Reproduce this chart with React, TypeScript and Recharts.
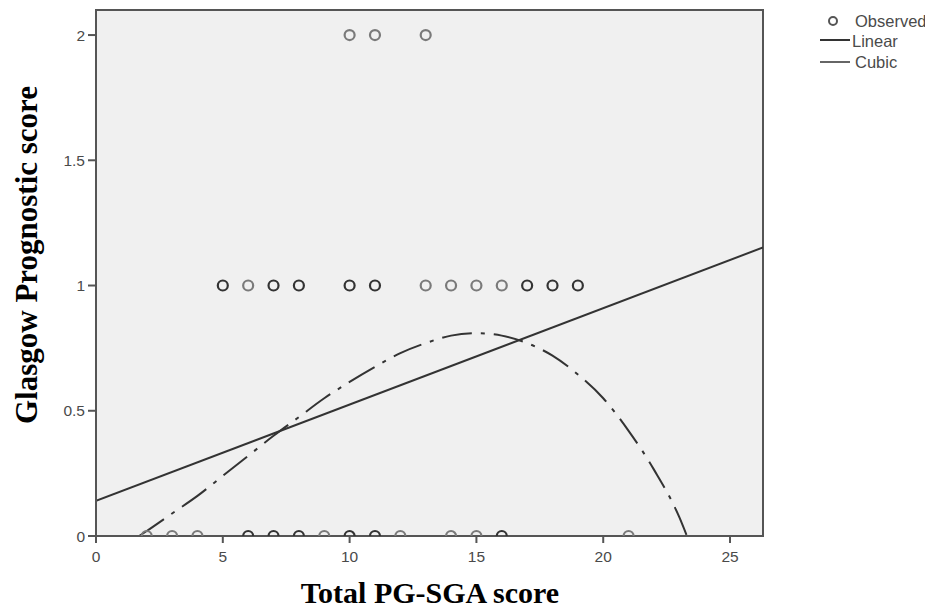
import React from "react";
import {
  ComposedChart,
  XAxis,
  YAxis,
  Scatter,
  Line,
  CartesianGrid,
  ReferenceArea,
  Legend,
  Label,
} from "recharts";

// ---- data ----
const xTicks = [0, 5, 10, 15, 20, 25];
const yTicks = [0, 0.5, 1, 1.5, 2];

// Observed cases (Total PG-SGA score) at each Glasgow Prognostic score
const scoresAtGps0 = [2, 3, 4, 6, 7, 8, 9, 10, 11, 12, 14, 15, 16, 21];
const repeatedAtGps0 = [6, 7, 8, 10, 11, 16];
const scoresAtGps1 = [5, 6, 7, 8, 10, 11, 13, 14, 15, 16, 17, 18, 19];
const repeatedAtGps1 = [5, 7, 8, 10, 11, 17, 18, 19];
const scoresAtGps2 = [10, 11, 13];
const repeatedAtGps2: number[] = [];

// Linear fit (end points)
const linearX = [0, 26.3];
const linearY = [0.14, 1.152];

// Cubic fit
const cubicX = [1.7, 2, 3, 4, 5, 6, 7, 8, 9, 10, 11, 12, 13, 14, 15, 16, 17, 18, 19, 20, 21, 22, 23, 23.3];
const cubicY = [0, 0.02, 0.09, 0.16, 0.24, 0.32, 0.4, 0.475, 0.55, 0.615, 0.675, 0.73, 0.77, 0.8, 0.81, 0.8, 0.77, 0.72, 0.645, 0.55, 0.42, 0.265, 0.075, 0];

const X_DOMAIN: [number, number] = [0, 26.3];
const Y_DOMAIN: [number, number] = [0, 2.1];

const toObserved = (xs: number[], rep: number[], y: number) =>
  xs.map((x) => ({ x, y, dark: rep.includes(x) }));

const observedData = [
  ...toObserved(scoresAtGps0, repeatedAtGps0, 0),
  ...toObserved(scoresAtGps1, repeatedAtGps1, 1),
  ...toObserved(scoresAtGps2, repeatedAtGps2, 2),
];
const linearData = linearX.map((x, i) => ({ x, y: linearY[i] }));
const cubicData = cubicX.map((x, i) => ({ x, y: cubicY[i] }));

const AXIS_COLOR = "#555";
const SANS = "'Liberation Sans', Arial, sans-serif";
const TICK_FONT = { fontFamily: SANS, fontSize: 15.5, fill: "#4a4a4a" };
const TITLE_FONT = "'Liberation Serif', 'Times New Roman', serif";
const DASH = "30 9 4 9";

const CircleShape = (props: any) => {
  const { cx, cy, payload } = props;
  if (cx == null || cy == null) return null;
  const stroke = payload && payload.dark ? "#333" : "#7a7a7a";
  const r = 5;
  if (payload && payload.y === Y_DOMAIN[0]) {
    // points on the floor of the plot are cut by the frame: only the upper half shows
    return (
      <path
        d={`M ${cx - r} ${cy} A ${r} ${r} 0 0 1 ${cx + r} ${cy}`}
        fill="none"
        stroke={stroke}
        strokeWidth={2.2}
      />
    );
  }
  return <circle cx={cx} cy={cy} r={r} fill="none" stroke={stroke} strokeWidth={2.2} />;
};

const LegendContent = () => (
  <svg width={125} height={75} style={{ display: "block" }}>
    <circle cx={25} cy={13} r={4} fill="none" stroke="#555" strokeWidth={2} />
    <text x={47} y={19} style={{ fontFamily: SANS, fontSize: 16.5 }} fill="#4a4a4a">
      Observed
    </text>
    <line x1={12} x2={42} y1={32} y2={32} stroke="#333" strokeWidth={2} />
    <text x={44} y={39} style={{ fontFamily: SANS, fontSize: 16.5 }} fill="#4a4a4a">
      Linear
    </text>
    <line x1={12} x2={42} y1={54} y2={54} stroke="#666" strokeWidth={2} />
    <text x={47} y={60} style={{ fontFamily: SANS, fontSize: 16.5 }} fill="#4a4a4a">
      Cubic
    </text>
  </svg>
);

const XTitle = (props: any) => {
  const vb = props.viewBox || { x: 0, y: 0, width: 0, height: 0 };
  return (
    <text
      x={vb.x + vb.width / 2 + 0.5}
      y={vb.y + 67}
      textAnchor="middle"
      style={{ fontFamily: TITLE_FONT, fontWeight: "bold", fontSize: 30 }}
      fill="#000"
    >
      Total PG-SGA score
    </text>
  );
};

const YTitle = (props: any) => {
  const vb = props.viewBox || { x: 0, y: 0, width: 0, height: 0 };
  const cx = vb.x + 18;
  const cy = vb.y + vb.height / 2 - 18;
  return (
    <text
      x={cx}
      y={cy}
      textAnchor="middle"
      dominantBaseline="central"
      transform={`rotate(-90, ${cx}, ${cy})`}
      style={{ fontFamily: TITLE_FONT, fontWeight: "bold", fontSize: 31 }}
      fill="#000"
    >
      Glasgow Prognostic score
    </text>
  );
};

export default function App() {
  return (
    <ComposedChart
      width={925}
      height={600}
      margin={{ top: 2, right: 45, bottom: 0, left: 0 }}
      style={{ background: "#fff" }}
    >
      <CartesianGrid horizontal={false} vertical={false} fill="#f0f0f0" />
      <ReferenceArea
        x1={X_DOMAIN[0]}
        x2={X_DOMAIN[1]}
        y1={Y_DOMAIN[0]}
        y2={Y_DOMAIN[1]}
        fill="none"
        stroke={AXIS_COLOR}
        strokeWidth={2}
        ifOverflow="visible"
      />
      <XAxis
        type="number"
        dataKey="x"
        domain={X_DOMAIN}
        ticks={xTicks}
        allowDataOverflow
        height={72}
        tickSize={7}
        tickMargin={8}
        tick={TICK_FONT}
        axisLine={{ stroke: AXIS_COLOR, strokeWidth: 2 }}
        tickLine={{ stroke: AXIS_COLOR, strokeWidth: 2 }}
      >
        <Label content={<XTitle />} />
      </XAxis>
      <YAxis
        type="number"
        dataKey="y"
        domain={Y_DOMAIN}
        ticks={yTicks}
        allowDataOverflow
        width={88}
        tickSize={8}
        tickMargin={3}
        tick={TICK_FONT}
        axisLine={{ stroke: AXIS_COLOR, strokeWidth: 2 }}
        tickLine={{ stroke: AXIS_COLOR, strokeWidth: 2 }}
      >
        <Label content={<YTitle />} />
      </YAxis>
      <Line
        data={linearData}
        dataKey="y"
        type="linear"
        stroke="#333"
        strokeWidth={2}
        dot={false}
        activeDot={false}
        isAnimationActive={false}
        legendType="none"
      />
      <Line
        data={cubicData}
        dataKey="y"
        type="monotone"
        stroke="#333"
        strokeWidth={2}
        strokeDasharray={DASH}
        dot={false}
        activeDot={false}
        isAnimationActive={false}
        legendType="none"
      />
      <Scatter
        data={observedData}
        dataKey="y"
        shape={<CircleShape />}
        isAnimationActive={false}
        legendType="none"
      />
      <Legend
        layout="horizontal"
        verticalAlign="middle"
        align="right"
        content={<LegendContent />}
        wrapperStyle={{ left: 800, top: 0, width: 125, height: 75 }}
      />
    </ComposedChart>
  );
}
